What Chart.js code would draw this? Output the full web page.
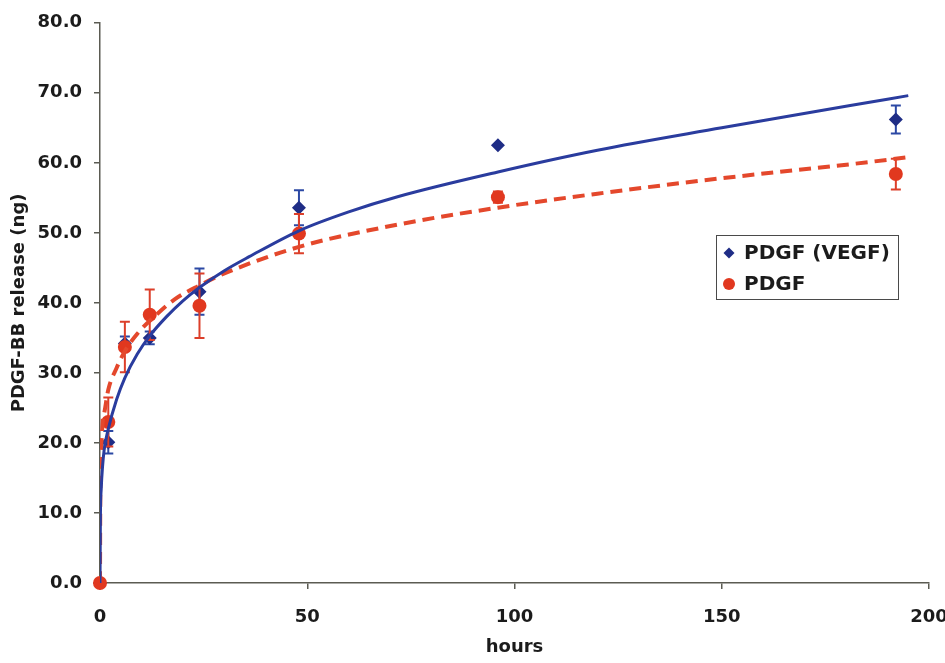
<!DOCTYPE html>
<html lang="en">
<head>
<meta charset="UTF-8">
<title>PDGF-BB release</title>
<script src="https://cdn.jsdelivr.net/npm/chart.js"></script>
<style>
  html, body { margin: 0; padding: 0; background: #fff; }
  #wrap { width: 945px; height: 663px; }
</style>
</head>
<body>
<div id="wrap"><canvas id="releaseChart" width="945" height="663"></canvas></div>
<script>
// sampling times (hours)
const hours = [0, 2, 6, 12, 24, 48, 96, 192];

// PDGF released from the VEGF/PDGF scaffold (ng) and its error
const vegfRelease = [0, 20.1, 34.2, 35.0, 41.6, 53.6, 62.5, 66.2];
const vegfError   = [0, 1.6, 1.0, 0.9, 3.3, 2.5, 0, 2.0];

// PDGF-only scaffold (ng) and its error
const pdgfRelease = [0, 23.0, 33.7, 38.3, 39.6, 49.9, 55.1, 58.4];
const pdgfError   = [0, 3.5, 3.6, 3.6, 4.6, 2.8, 0.8, 2.2];

// power trend curves
const vegfFitX = [0, 0.1, 0.3, 0.6, 1, 2, 4, 6, 9, 12, 16, 20, 24, 30, 36, 48, 60, 72, 96, 120, 150, 181, 195];
const vegfFitY = [0, 9.5, 13.5, 16.5, 19.0, 22.0, 26.2, 29.3, 32.7, 35.3, 38.0, 40.3, 42.2, 44.6, 46.6, 50.3, 53.0, 55.2, 58.7, 61.8, 65.0, 68.2, 69.6];
const pdgfFitX = [0, 0.1, 0.3, 0.7, 1, 2, 4, 6, 9, 13.6, 18, 24, 30, 48, 72, 96, 120, 150, 181, 195];
const pdgfFitY = [0, 16.0, 19.5, 23.5, 24.2, 27.6, 30.7, 33.1, 35.6, 38.3, 40.5, 42.5, 44.2, 48.0, 51.2, 53.6, 55.6, 57.8, 59.8, 60.8];

const xTicks = [0, 50, 100, 150, 200];

const FONT = '"DejaVu Sans", "Liberation Sans", Arial, sans-serif';
const BLUE = '#1f2d86';
const BLUE_LINE = '#2a3c9e';
const RED = '#e1381f';
const RED_LINE = '#e4482c';
const AXIS = '#5b5b52';

function toPoints(xs, ys) {
  return xs.map((x, i) => ({ x: x, y: ys[i] }));
}

function drawMarker(ctx, style, x, y, r, color) {
  ctx.beginPath();
  if (style === 'rectRot') {
    ctx.moveTo(x - r, y);
    ctx.lineTo(x, y - r);
    ctx.lineTo(x + r, y);
    ctx.lineTo(x, y + r);
    ctx.closePath();
  } else {
    ctx.arc(x, y, r, 0, Math.PI * 2);
  }
  ctx.fillStyle = color;
  ctx.fill();
}

// vertical error bars with caps, drawn under each series' markers
const errorBars = {
  id: 'errorBars',
  beforeDatasetDraw(chart, args) {
    const ds = chart.data.datasets[args.index];
    if (!ds.errors) return;
    const ctx = chart.ctx;
    const xs = chart.scales.x, ys = chart.scales.y;
    ctx.save();
    ctx.strokeStyle = ds.errorColor;
    ctx.lineWidth = 2;
    ds.data.forEach((p, i) => {
      const e = ds.errors[i];
      if (!e) return;
      const px = xs.getPixelForValue(p.x);
      const top = ys.getPixelForValue(p.y + e);
      const bot = ys.getPixelForValue(p.y - e);
      ctx.beginPath();
      ctx.moveTo(px, top); ctx.lineTo(px, bot);
      ctx.moveTo(px - 5, top); ctx.lineTo(px + 5, top);
      ctx.moveTo(px - 5, bot); ctx.lineTo(px + 5, bot);
      ctx.stroke();
    });
    ctx.restore();
  }
};

// boxed legend sitting inside the plot on the right
const boxLegend = {
  id: 'boxLegend',
  afterDraw(chart, args, opts) {
    const ctx = chart.ctx;
    ctx.save();
    ctx.fillStyle = '#fff';
    ctx.fillRect(opts.left, opts.top, opts.width, opts.height);
    ctx.strokeStyle = '#4a4a4a';
    ctx.lineWidth = 1;
    ctx.strokeRect(opts.left + 0.5, opts.top + 0.5, opts.width, opts.height);
    const items = chart.data.datasets.filter(d => d.inLegend);
    items.forEach((ds, i) => {
      const cy = opts.top + 18 + i * 31;
      const r = ds.pointStyle === 'rectRot' ? 5.5 : 6;
      drawMarker(ctx, ds.pointStyle, opts.left + 13, cy, r, ds.backgroundColor);
      ctx.font = 'bold 20px ' + FONT;
      ctx.fillStyle = '#1b1b1b';
      ctx.textBaseline = 'middle';
      ctx.fillText(ds.label, opts.left + 28, cy + 1);
    });
    ctx.restore();
  }
};

const ctx = document.getElementById('releaseChart').getContext('2d');
new Chart(ctx, {
  type: 'scatter',
  data: {
    datasets: [
      {
        label: 'PDGF (VEGF)',
        inLegend: true,
        data: toPoints(hours, vegfRelease),
        errors: vegfError,
        errorColor: '#2b48a4',
        pointStyle: 'rectRot',
        pointRadius: 7,
        backgroundColor: BLUE,
        borderColor: BLUE,
        borderWidth: 0,
        clip: false,
        order: 3
      },
      {
        label: 'PDGF',
        inLegend: true,
        data: toPoints(hours, pdgfRelease),
        errors: pdgfError,
        errorColor: '#dc3f2a',
        pointStyle: 'circle',
        pointRadius: 7,
        backgroundColor: RED,
        borderColor: RED,
        borderWidth: 0,
        clip: false,
        order: 2
      },
      {
        label: 'PDGF (VEGF) trend',
        data: toPoints(vegfFitX, vegfFitY),
        showLine: true,
        pointRadius: 0,
        borderColor: BLUE_LINE,
        borderWidth: 3,
        cubicInterpolationMode: 'monotone',
        order: 0
      },
      {
        label: 'PDGF trend',
        data: toPoints(pdgfFitX, pdgfFitY),
        showLine: true,
        pointRadius: 0,
        borderColor: RED_LINE,
        borderWidth: 4,
        borderDash: [12, 7],
        cubicInterpolationMode: 'monotone',
        order: 1
      }
    ]
  },
  options: {
    responsive: false,
    animation: false,
    devicePixelRatio: 1,
    layout: { padding: { left: 0, right: 16, top: 20, bottom: 0 } },
    plugins: {
      legend: { display: false },
      tooltip: { enabled: false },
      boxLegend: { left: 716, top: 235, width: 182, height: 64 }
    },
    scales: {
      x: {
        type: 'linear',
        min: 0,
        max: 200,
        afterBuildTicks: s => { s.ticks = xTicks.map(v => ({ value: v })); },
        afterFit: s => { s.height = 80; s.paddingLeft = 0; s.paddingRight = 0; },
        grid: { drawOnChartArea: false, drawTicks: true, tickLength: 6, color: AXIS, lineWidth: 1.5 },
        border: { display: true, color: AXIS, width: 1.5 },
        ticks: {
          padding: 18,
          color: '#1b1b1b',
          font: { family: FONT, size: 18, weight: 'bold' }
        },
        title: {
          display: true,
          text: 'hours',
          color: '#1b1b1b',
          font: { family: FONT, size: 18, weight: 'bold' },
          padding: { top: 0, bottom: 5 }
        }
      },
      y: {
        min: 0,
        max: 80,
        afterFit: s => { s.width = 100; },
        grid: { drawOnChartArea: false, drawTicks: true, tickLength: 6, color: AXIS, lineWidth: 1.5 },
        border: { display: true, color: AXIS, width: 1.5 },
        ticks: {
          stepSize: 10,
          padding: 12,
          color: '#1b1b1b',
          font: { family: FONT, size: 18, weight: 'bold' },
          callback: v => v.toFixed(1)
        },
        title: {
          display: true,
          text: 'PDGF-BB release (ng)',
          color: '#1b1b1b',
          font: { family: FONT, size: 18, weight: 'bold' },
          padding: { top: 9, bottom: 0 }
        }
      }
    }
  },
  plugins: [errorBars, boxLegend]
});
</script>
</body>
</html>
